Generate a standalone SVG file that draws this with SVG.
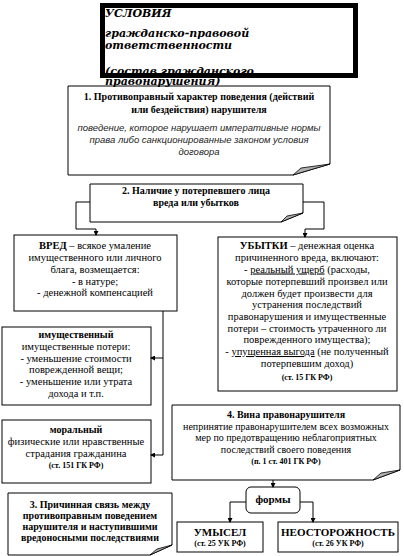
<svg xmlns="http://www.w3.org/2000/svg" width="404" height="556" viewBox="0 0 404 556">
<style>
.box{fill:#fff;stroke:#000;stroke-width:1}
.curl{fill:#b0b0b0;stroke:#000;stroke-width:0.8}
.t{font-family:"Liberation Serif","Times New Roman",serif;font-size:10px;fill:#000;text-anchor:middle}
.r{font-size:10.5px}
.b{font-weight:bold}
.s{font-size:8px;font-weight:bold}
.i{font-family:"Liberation Sans",Arial,sans-serif;font-style:italic;font-size:9.5px;fill:#222;text-anchor:middle}
.ttl{font-family:"DejaVu Serif",serif;font-weight:bold;font-style:italic;font-size:11px;fill:#000}
.c{fill:none;stroke:#000;stroke-width:1}
</style>
<defs>
<marker id="ar" markerWidth="5" markerHeight="5" refX="4" refY="2.5" orient="auto" markerUnits="userSpaceOnUse">
<path d="M0,0 L5,2.5 L0,5 Z" fill="#000"/>
</marker>
</defs>

<g id="n1">
<path class="box" d="M68,86 H330 V164 L293,175 H68 Z"/>
<path class="curl" d="M293,175 L301,168 L330,164 Z"/>
<text class="t b" x="199" y="100">1. Противоправный характер поведения (действий</text>
<text class="t b" x="199" y="113">или бездействия) нарушителя</text>
<text class="i" x="199" y="131">поведение, которое нарушает императивные нормы</text>
<text class="i" x="199" y="143">права либо санкционированные законом условия</text>
<text class="i" x="199" y="155">договора</text>
</g>

<g id="title">
<rect x="102.5" y="5.5" width="253" height="70" fill="#fff"/>
<text class="ttl" x="105" y="17">УСЛОВИЯ</text>
<text class="ttl" x="105" y="37">гражданско-правовой</text>
<text class="ttl" x="105" y="49">ответственности</text>
<text class="ttl" x="105" y="75">(состав гражданского</text>
<rect x="102.5" y="5.5" width="253" height="70" fill="none" stroke="#000" stroke-width="5"/>
<text class="ttl" x="105" y="84.5">правонарушения)</text>
</g>

<g id="n2">
<path class="box" d="M90,184 H303 V213 L281,222 H90 Z"/>
<path class="curl" d="M281,222 L287,216 L303,213 Z"/>
<text class="t b" x="196" y="194">2. Наличие у потерпевшего лица</text>
<text class="t b" x="196" y="206">вреда или убытков</text>
</g>

<g id="vred">
<rect class="box" x="14" y="235" width="163" height="76"/>
<text class="t r" x="95" y="249"><tspan class="b">ВРЕД</tspan> – всякое умаление</text>
<text class="t r" x="95" y="261">имущественного или личного</text>
<text class="t r" x="95" y="273">блага, возмещается:</text>
<text class="t r" x="95" y="285">- в натуре;</text>
<text class="t r" x="95" y="296">- денежной компенсацией</text>
</g>

<g id="ubytki">
<rect class="box" x="218" y="237" width="179" height="154"/>
<text class="t r" x="307" y="249"><tspan class="b">УБЫТКИ</tspan> – денежная оценка</text>
<text class="t r" x="307" y="261">причиненного вреда, включают:</text>
<text class="t r" x="307" y="272.5">- <tspan text-decoration="underline">реальный ущерб</tspan> (расходы,</text>
<text class="t r" x="307" y="284.5">которые потерпевший произвел или</text>
<text class="t r" x="307" y="296.5">должен будет произвести для</text>
<text class="t r" x="307" y="308">устранения последствий</text>
<text class="t r" x="307" y="320">правонарушения и имущественные</text>
<text class="t r" x="307" y="331.5">потери – стоимость утраченного ли</text>
<text class="t r" x="307" y="343">поврежденного имущества);</text>
<text class="t r" x="307" y="355">- <tspan text-decoration="underline">упущенная выгода</tspan> (не полученный</text>
<text class="t r" x="307" y="366.5">потерпевшим доход)</text>
<text class="t s" x="307" y="379.5">(ст. 15 ГК РФ)</text>
</g>

<g id="imush">
<rect class="box" x="2" y="327" width="149" height="78"/>
<text class="t b" x="76" y="338">имущественный</text>
<text class="t r" x="76" y="350">имущественные потери:</text>
<text class="t r" x="76" y="361.5">- уменьшение стоимости</text>
<text class="t r" x="76" y="373">поврежденной вещи;</text>
<text class="t r" x="76" y="385">- уменьшение или утрата</text>
<text class="t r" x="76" y="396.5">дохода и т.п.</text>
</g>

<g id="moral">
<rect class="box" x="2" y="420" width="149" height="63"/>
<text class="t b" x="76" y="433">моральный</text>
<text class="t r" x="76" y="445">физические или нравственные</text>
<text class="t r" x="76" y="457">страдания гражданина</text>
<text class="t s" x="76" y="468">(ст. 151 ГК РФ)</text>
</g>

<g id="n4">
<path class="box" d="M172,405 H400 V470 L373,480 H172 Z"/>
<path class="curl" d="M373,480 L381,473 L400,470 Z"/>
<text class="t b" x="286" y="418">4. Вина правонарушителя</text>
<text class="t" x="286" y="430">непринятие правонарушителем всех возможных</text>
<text class="t" x="286" y="441">мер по предотвращению неблагоприятных</text>
<text class="t" x="286" y="453">последствий своего поведения</text>
<text class="t s" x="286" y="464">(п. 1 ст. 401 ГК РФ)</text>
</g>

<g id="n3">
<path class="box" d="M8,493 H172 V545 L150,555 H8 Z"/>
<path class="curl" d="M150,555 L157,549 L172,545 Z"/>
<text class="t b" x="90" y="508">3. Причинная связь между</text>
<text class="t b" x="90" y="519">противоправным поведением</text>
<text class="t b" x="90" y="530">нарушителя и наступившими</text>
<text class="t b" x="90" y="541">вредоносными последствиями</text>
</g>

<g id="formy">
<rect class="box" x="246" y="487" width="54" height="26" rx="5"/>
<text class="t b" x="273" y="503" style="font-size:11px">формы</text>
</g>

<g id="umysel">
<rect class="box" x="177" y="522" width="86" height="30"/>
<text class="t b" x="220" y="536" style="font-size:11px">УМЫСЕЛ</text>
<text class="t s" x="220" y="546">(ст. 25 УК РФ)</text>
</g>

<g id="neost">
<rect class="box" x="278" y="522" width="120" height="30"/>
<text class="t b" x="338" y="536" style="font-size:11px">НЕОСТОРОЖНОСТЬ</text>
<text class="t s" x="338" y="546">(ст. 26 УК РФ)</text>
</g>

<g id="connectors">
<path class="c" d="M90,202 H76 V229 H96 V235" marker-end="url(#ar)"/>
<path class="c" d="M303,202 H324 V229 H305 V237" marker-end="url(#ar)"/>
<path class="c" d="M163,311 V455"/>
<path class="c" d="M163,358 H151" marker-end="url(#ar)"/>
<path class="c" d="M163,455 H151" marker-end="url(#ar)"/>
<path class="c" d="M273,480 V487" marker-end="url(#ar)"/>
<path class="c" d="M246,502 H230 V522" marker-end="url(#ar)"/>
<path class="c" d="M300,502 H313 V522" marker-end="url(#ar)"/>
</g>
</svg>
